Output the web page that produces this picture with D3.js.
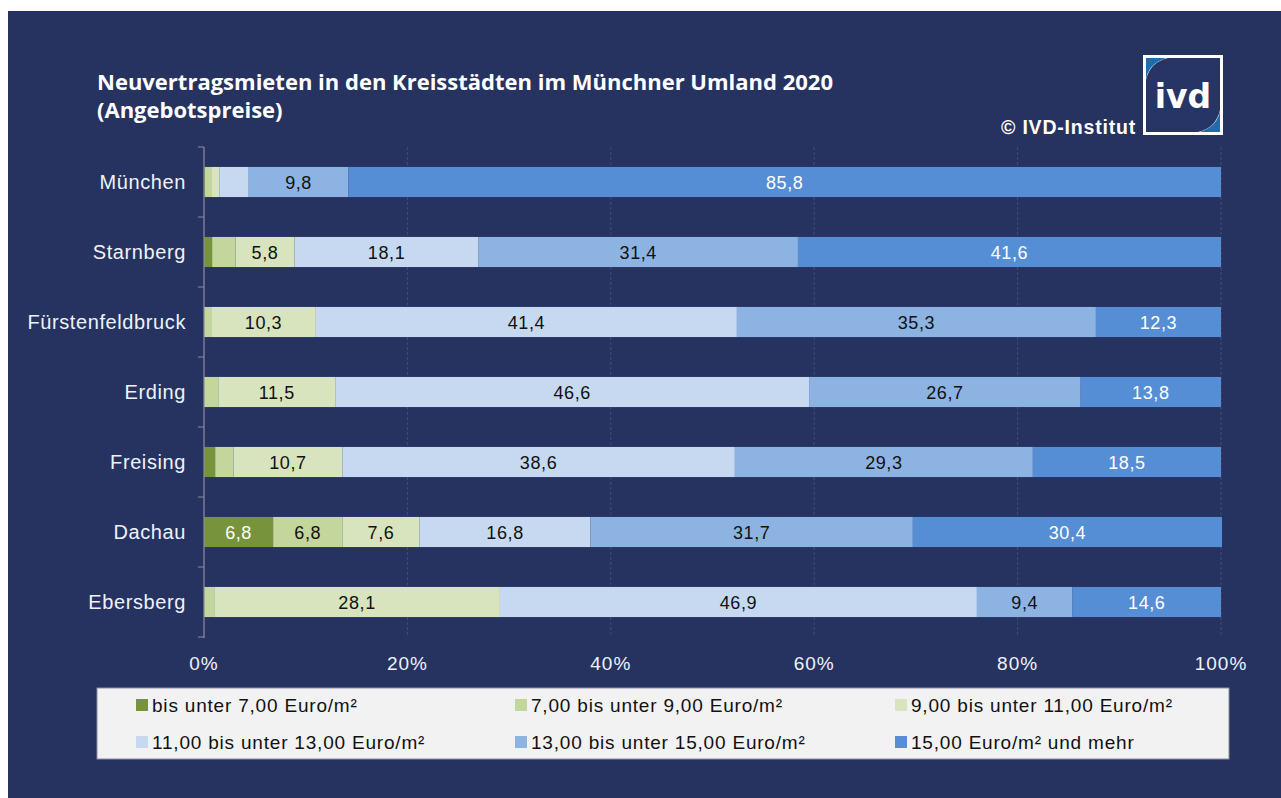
<!DOCTYPE html>
<html><head><meta charset="utf-8">
<script src="https://cdn.jsdelivr.net/npm/d3@7"></script>
<style>body{margin:0;background:#fff;}svg{display:block;}</style>
</head><body>
<svg id="c" width="1281" height="798"></svg>
<script>
const categories = ["München","Starnberg","Fürstenfeldbruck","Erding","Freising","Dachau","Ebersberg"];
const seriesNames = ["bis unter 7,00 Euro/m²","7,00 bis unter 9,00 Euro/m²","9,00 bis unter 11,00 Euro/m²","11,00 bis unter 13,00 Euro/m²","13,00 bis unter 15,00 Euro/m²","15,00 Euro/m² und mehr"];
const s1 = [0.1, 0.8, 0.0, 0.0, 1.1, 6.8, 0.0];
const s2 = [0.6, 2.3, 0.7, 1.4, 1.8, 6.8, 1.0];
const s3 = [0.8, 5.8, 10.3, 11.5, 10.7, 7.6, 28.1];
const s4 = [2.9, 18.1, 41.4, 46.6, 38.6, 16.8, 46.9];
const s5 = [9.8, 31.4, 35.3, 26.7, 29.3, 31.7, 9.4];
const s6 = [85.8, 41.6, 12.3, 13.8, 18.5, 30.4, 14.6];
const shownLabels = [
  [false,false,false,false,false,true,false],
  [false,false,false,false,false,true,false],
  [false,true,true,true,true,true,true],
  [false,true,true,true,true,true,true],
  [true,true,true,true,true,true,true],
  [true,true,true,true,true,true,true]
];
const tickValues = [0,20,40,60,80,100];
const colors = ["#77933c","#c3d69b","#d7e4bd","#c6d9f1","#8db3e2","#558ed5"];
const labelColors = ["#ffffff","#111111","#111111","#111111","#111111","#ffffff"];
const series = [s1,s2,s3,s4,s5,s6];

const svg = d3.select("#c");
const navy = "#263360";
const FONT = "Liberation Sans, Arial, sans-serif";
svg.append("rect").attr("x",8).attr("y",11).attr("width",1273).attr("height",787).attr("fill",navy);

const x = d3.scaleLinear().domain([0,100]).range([204,1221]);
const y = d3.scaleBand().domain(categories).range([147,637]).paddingInner(0.57).paddingOuter(0.285);

// gridlines
const g = svg.append("g");
g.selectAll("line.grid").data(tickValues.slice(1)).join("line")
  .attr("x1",d=>x(d)).attr("x2",d=>x(d)).attr("y1",147).attr("y2",637)
  .attr("stroke","#434e74").attr("stroke-width",1).attr("stroke-dasharray","3,2");

// stacked data
const rows = categories.map((c,i)=>{const o={cat:c}; series.forEach((s,k)=>o["k"+k]=s[i]); return o;});
const stack = d3.stack().keys(series.map((s,k)=>"k"+k));
const stacked = stack(rows);

stacked.forEach((layer,k)=>{
  const lg = svg.append("g");
  lg.selectAll("rect").data(layer).join("rect")
    .attr("x",d=>x(d[0])).attr("width",d=>Math.max(0,x(d[1])-x(d[0])))
    .attr("y",d=>y(d.data.cat)).attr("height",y.bandwidth())
    .attr("fill",colors[k]);
  lg.selectAll("text").data(layer.filter((d,i)=>shownLabels[k][i])).join("text")
    .attr("x",d=>(x(d[0])+x(d[1]))/2).attr("y",d=>y(d.data.cat)+y.bandwidth()/2+7)
    .attr("text-anchor","middle").attr("font-family",FONT)
    .attr("font-size",18).attr("letter-spacing",0.6).attr("fill",labelColors[k])
    .text(d=>d3.format(".1f")(d[1]-d[0]).replace(".",","));
});

// axes
const yAxis = svg.append("g");
yAxis.append("line").attr("x1",204).attr("x2",204).attr("y1",147).attr("y2",638).attr("stroke","#8a8f9e").attr("stroke-width",1.2);
const boundaries = d3.range(categories.length+1).map(i=>147+i*y.step());
yAxis.selectAll("line.t").data(boundaries).join("line").attr("class","t")
  .attr("x1",198).attr("x2",204).attr("y1",d=>d).attr("y2",d=>d).attr("stroke","#8a8f9e");
yAxis.selectAll("text").data(categories).join("text")
  .attr("x",186).attr("y",d=>y(d)+y.bandwidth()/2+7).attr("text-anchor","end")
  .attr("font-family",FONT).attr("font-size",20).attr("letter-spacing",0.6).attr("fill","#eef2f8")
  .text(d=>d);

const xAxis = svg.append("g");
xAxis.selectAll("text").data(tickValues).join("text")
  .attr("x",d=>x(d)).attr("y",670).attr("text-anchor","middle")
  .attr("font-family",FONT).attr("font-size",19).attr("letter-spacing",1).attr("fill","#eef2f8")
  .text(d=>d+"%");

// title
const t = svg.append("text").attr("x",97).attr("font-family","Open Sans, sans-serif").attr("font-weight","bold").attr("font-size",22).attr("fill","#ffffff");
t.append("tspan").attr("x",97).attr("y",90).text("Neuvertragsmieten in den Kreisstädten im Münchner Umland 2020");
t.append("tspan").attr("x",97).attr("y",118).text("(Angebotspreise)");

svg.append("text").attr("x",1136).attr("y",134).attr("text-anchor","end")
  .attr("font-family",FONT).attr("font-weight","bold").attr("font-size",19.5).attr("letter-spacing",0.8).attr("fill","#ffffff")
  .text("© IVD-Institut");

// logo
const logo = svg.append("g");
logo.append("rect").attr("x",1143).attr("y",55).attr("width",80).attr("height",80).attr("fill","#ffffff");
logo.append("path").attr("d","M1146,58 h20 q-18,6 -20,22 z").attr("fill","#1f6cb0");
logo.append("path").attr("d","M1220,132 h-20 q18,-6 20,-22 z").attr("fill","#1f6cb0");
logo.append("path").attr("d","M1168,58 H1220 V110 Q1216,128 1198,132 H1146 V80 Q1150,62 1168,58 Z").attr("fill","#273566");
logo.append("text").attr("x",1183).attr("y",108).attr("text-anchor","middle")
  .attr("font-family","DejaVu Sans, sans-serif").attr("font-weight","bold").attr("font-size",33).attr("fill","#ffffff").text("ivd");

// legend
const leg = svg.append("g");
leg.append("rect").attr("x",97).attr("y",688).attr("width",1132).attr("height",71).attr("fill","#f2f2f2").attr("stroke","#8a8f9e");
const legX = [136,515,895], legY = [705,742];
seriesNames.forEach((n,k)=>{
  const cx = legX[k%3], cy = legY[Math.floor(k/3)];
  leg.append("rect").attr("x",cx).attr("y",cy-6).attr("width",12).attr("height",12).attr("fill",colors[k]);
  leg.append("text").attr("x",cx+16).attr("y",cy+7).attr("font-family",FONT)
    .attr("font-size",19).attr("letter-spacing",0.8).attr("fill","#111").text(n);
});
</script>
</body></html>
